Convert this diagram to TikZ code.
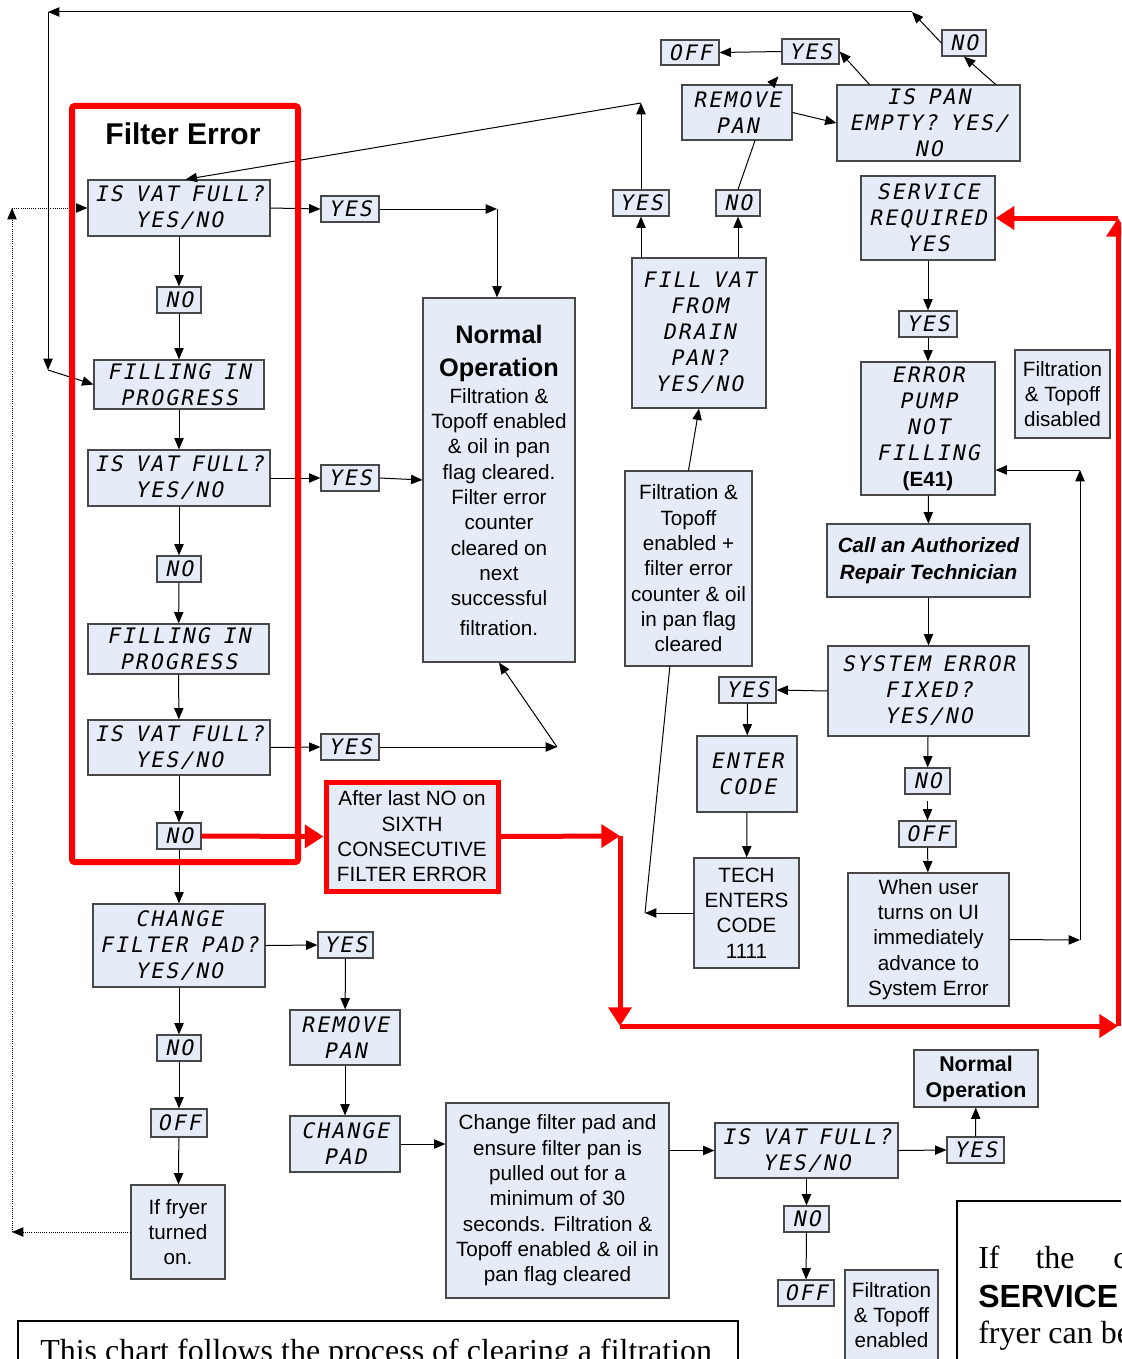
\documentclass[tikz,border=0pt]{standalone}
\usepackage{fontspec}
\setmainfont{Liberation Serif}
\setsansfont{Liberation Sans}
\newfontfamily\lcdfont[FakeSlant=0.2, LetterSpace=10, WordSpace=0.85]{DejaVu Sans Mono}
\usetikzlibrary{arrows.meta,positioning}
\definecolor{boxfill}{RGB}{230,236,247}
\definecolor{boxline}{RGB}{72,72,72}
\definecolor{alarmred}{RGB}{255,0,0}

\begin{document}
\begin{tikzpicture}[x=0.75pt,y=-0.75pt,
  lcd/.style={draw=boxline, fill=boxfill, line width=0.9pt, inner sep=0pt, align=center,
    font=\lcdfont\fontsize{16}{19.5}\selectfont},
  note/.style={draw=boxline, fill=boxfill, line width=0.9pt, inner sep=0pt, align=center,
    font=\sffamily\fontsize{15.5}{19}\selectfont},
  alarm/.style={note, draw=alarmred, line width=3.75pt},
  sz/.style 2 args={minimum width=#1*0.75pt, minimum height=#2*0.75pt},
  arrow/.style={-{Triangle[length=8.5pt,width=7pt]}, line width=0.75pt},
  link/.style={line width=0.75pt},
  dotarrow/.style={-{Triangle[length=8.5pt,width=7pt]}, line width=0.6pt, densely dotted},
  redarrow/.style={-{Triangle[length=14pt,width=17pt]}, line width=3.75pt, draw=alarmred},
  memo/.style={anchor=base west, inner sep=0pt, font=\fontsize{24}{28}\selectfont}
]
\useasboundingbox (0,0) rectangle (1121,1359);
\clip (0,0) rectangle (1121,1359);

% filter error column
\node[lcd, sz={182}{56}] (vat1) at (179,208) {IS VAT FULL?\\YES/NO};
\node[lcd, sz={58}{26}] (yes1) at (350,209) {YES};
\node[lcd, sz={44}{26}] (no1) at (179,300) {NO};
\node[lcd, sz={170}{49}] (fill1) at (179,384.5) {FILLING IN\\PROGRESS};
\node[lcd, sz={182}{56}] (vat2) at (179,478) {IS VAT FULL?\\YES/NO};
\node[lcd, sz={58}{26}] (yes2) at (350,478) {YES};
\node[lcd, sz={44}{26}] (no2) at (179,569) {NO};
\node[lcd, sz={181}{50}] (fill2) at (178.5,649) {FILLING IN\\PROGRESS};
\node[lcd, sz={182}{55}] (vat3) at (179,747.5) {IS VAT FULL?\\YES/NO};
\node[lcd, sz={58}{26}] (yes3) at (350,747) {YES};
\node[lcd, sz={44}{26}] (no3) at (179,836) {NO};
\node[alarm, sz={172}{109}] (afterlast) at (412,836.5) {After last NO on\\SIXTH\\CONSECUTIVE\\FILTER ERROR};
\node[note, sz={152}{364}] (normal1) at (499,480) {\textbf{\fontsize{19}{23}\selectfont Normal}\\[6pt]\textbf{\fontsize{19}{23}\selectfont Operation}\\[1pt]Filtration \&\\Topoff enabled\\\& oil in pan\\flag cleared.\\Filter error\\counter\\cleared on\\next\\successful\\[3pt]filtration.};

% change pad branch
\node[lcd, sz={172}{83}] (change1) at (179,945.5) {CHANGE\\FILTER PAD?\\YES/NO};
\node[lcd, sz={55}{26}] (yes4) at (345.5,945) {YES};
\node[lcd, sz={110}{55}] (remove2) at (345,1037.5) {REMOVE\\PAN};
\node[lcd, sz={44}{26}] (no4) at (179,1048) {NO};
\node[lcd, sz={56}{28}] (off1) at (179,1123) {OFF};
\node[note, sz={94}{94}] (fryer) at (178,1232) {If fryer\\turned\\on.};
\node[lcd, sz={110}{56}] (changepad) at (345,1144) {CHANGE\\PAD};
\node[note, sz={223}{195}] (changetxt) at (557.5,1200.5) {Change filter pad and\\ensure filter pan is\\pulled out for a\\minimum of 30\\seconds. Filtration \&\\Topoff enabled \& oil in\\pan flag cleared};
\node[lcd, sz={183}{55}] (vat4) at (806.5,1150.5) {IS VAT FULL?\\YES/NO};
\node[lcd, sz={57}{26}] (yes9) at (975.5,1150) {YES};
\node[note, sz={124}{57}, font=\sffamily\bfseries\fontsize{16}{19.5}\selectfont] (normal2) at (976,1078.5) {Normal\\Operation};
\node[lcd, sz={45}{26}] (no8) at (806.5,1219) {NO};
\node[lcd, sz={56}{26}] (off4) at (806,1293) {OFF};
\node[note, sz={93}{90}] (filt3) at (891.5,1315) {Filtration\\\& Topoff\\enabled};

% drain pan branch
\node[lcd, sz={134}{150}] (fillvat) at (699,333) {FILL VAT\\FROM\\DRAIN\\PAN?\\YES/NO};
\node[lcd, sz={56}{26}] (yes5) at (641,203) {YES};
\node[lcd, sz={44}{26}] (no5) at (738,203) {NO};
\node[lcd, sz={110}{55}] (remove1) at (737,112.5) {REMOVE\\PAN};
\node[lcd, sz={183}{76}] (ispan) at (928.5,123) {IS PAN\\EMPTY? YES/\\NO};
\node[lcd, sz={57}{25}] (yes6) at (810.5,51.5) {YES};
\node[lcd, sz={58}{25}] (off2) at (690,52.5) {OFF};
\node[lcd, sz={44}{26}] (no6) at (964,43) {NO};
\node[note, sz={127}{195}] (filt2) at (688.5,568.5) {Filtration \&\\Topoff\\enabled +\\filter error\\counter \& oil\\in pan flag\\cleared};

% service branch
\node[lcd, sz={134}{84}] (service) at (928,218) {SERVICE\\REQUIRED\\YES};
\node[lcd, sz={58}{26}] (yes7) at (928,324) {YES};
\node[lcd, sz={134}{133}] (errpump) at (928,428.5) {ERROR\\PUMP\\NOT\\FILLING\\{\sffamily\bfseries\fontsize{15.5}{19}\selectfont (E41)}};
\node[note, sz={95}{88}] (filtdis) at (1062.5,394) {Filtration\\\& Topoff\\disabled};
\node[note, sz={203}{73}, font=\sffamily\bfseries\itshape\fontsize{15.5}{20}\selectfont] (call) at (928.5,560.5) {Call an Authorized\\Repair Technician};
\node[lcd, sz={201}{90}] (sysfix) at (928.5,691) {SYSTEM ERROR\\FIXED?\\YES/NO};
\node[lcd, sz={57}{26}] (yes8) at (747.5,690) {YES};
\node[lcd, sz={100}{76}] (enter) at (747,774) {ENTER\\CODE};
\node[note, sz={105}{110}] (tech) at (746.5,913) {TECH\\ENTERS\\CODE\\1111};
\node[lcd, sz={45}{26}] (no7) at (927.5,781) {NO};
\node[lcd, sz={57}{26}] (off3) at (927.5,834) {OFF};
\node[note, sz={161}{133}] (whenuser) at (928.5,939.5) {When user\\turns on UI\\immediately\\advance to\\System Error};

% bend points
\coordinate (c1) at (497,209);
\coordinate (c3) at (557,747);
\coordinate (c4) at (620,836);
\coordinate (c5) at (620,1026);
\coordinate (c6) at (1118,1026);
\coordinate (c7) at (1118,218);
\coordinate (c8) at (12,1232);
\coordinate (c9) at (12,208);
\coordinate (c10) at (641,103);
\coordinate (c13) at (912,12);
\coordinate (c14) at (48,12);
\coordinate (c15) at (48,370);
\coordinate (c16) at (645,913);
\coordinate (c17) at (1080,940);
\coordinate (c18) at (1080,470);

% filter error connectors
\draw[arrow] (vat1.east) -- (yes1.west);
\draw[arrow] (yes1.east) -- (c1);
\draw[arrow] (c1) -- (normal1.north -| c1);
\draw[arrow] (vat1) -- (no1);
\draw[arrow] (no1) -- (fill1);
\draw[arrow] (fill1) -- (vat2);
\draw[arrow] (vat2.east) -- (yes2.west);
\draw[arrow] (yes2.east) -- (normal1.west);
\draw[arrow] (vat2) -- (no2);
\draw[arrow] (no2) -- (fill2);
\draw[arrow] (fill2) -- (vat3);
\draw[arrow] (vat3.east) -- (yes3.west);
\draw[arrow] (yes3.east) -- (c3);
\draw[arrow] (c3) -- (normal1.south);
\draw[arrow] (vat3) -- (no3);
\draw[arrow] (no3) -- (change1);

% change pad connectors
\draw[arrow] (change1.east) -- (yes4.west);
\draw[arrow] (yes4) -- (remove2);
\draw[arrow] (remove2) -- (changepad);
\draw[arrow] (changepad.east) -- (changetxt.west |- changepad.east);
\draw[arrow] (vat4.west -| changetxt.east) -- (vat4.west);
\draw[arrow] (vat4.east) -- (yes9.west);
\draw[arrow] (yes9) -- (normal2);
\draw[arrow] (vat4) -- (no8);
\draw[arrow] (no8) -- (off4);
\draw[arrow] (change1) -- (no4);
\draw[arrow] (no4) -- (off1);
\draw[arrow] (off1) -- (fryer);
\draw[dotarrow] (fryer.west) -- (c8);
\draw[dotarrow] (c8) -- (c9);
\draw[dotarrow] (c9) -- (vat1.west);

% drain pan connectors
\draw[arrow] (yes5 |- fillvat.north) -- (yes5.south);
\draw[arrow] (yes5.north) -- (c10);
\draw[arrow] (c10) -- ([xshift=5pt]vat1.north);
\draw[arrow] (no5 |- fillvat.north) -- (no5.south);
\draw[link] (no5.north) -- ([xshift=13.5pt]remove1.south);
\draw[arrow] (remove1.east) -- (ispan.west);
\draw[arrow] ([xshift=24.75pt]ispan.north west) -- (yes6.east);
\draw[arrow] (yes6.west) -- (off2.east);
\draw[arrow] ([xshift=67.5pt]remove1.north west) -- ++(7,-8);
\draw[arrow] ([xshift=-18.75pt]ispan.north east) -- (no6.south);
\draw[arrow] (no6.west) -- (c13);
\draw[arrow] (c13) -- (c14);
\draw[arrow] (c14) -- (c15);
\draw[arrow] (c15) -- (fill1.west);
\draw[arrow] (filt2.north) -- (fillvat.south);

% service connectors
\draw[arrow] (service) -- (yes7);
\draw[arrow] (yes7) -- (errpump);
\draw[arrow] (errpump) -- (call);
\draw[arrow] (call) -- (sysfix);
\draw[arrow] (sysfix.west) -- (yes8.east);
\draw[arrow] (yes8) -- (enter);
\draw[arrow] (enter) -- (tech);
\draw[arrow] (tech.west) -- (c16);
\draw[link] (c16) -- ([xshift=-14pt]filt2.south);
\draw[arrow] (sysfix) -- (no7);
\draw[arrow] ([yshift=-4.5pt]no7.south) -- (off3.north);
\draw[arrow] (off3) -- (whenuser);
\draw[arrow] (whenuser.east) -- (c17);
\draw[arrow] (c17) -- (c18);
\draw[arrow] (c18) -- (c18 -| errpump.east);

% red error path
\draw[alarmred, line width=4.5pt, rounded corners=2pt] (72,106) rectangle (298,862);
\node[font=\sffamily\bfseries\fontsize{22.5}{27}\selectfont] (errtitle) at (183,134) {Filter Error};
\draw[redarrow] (no3.east) -- (afterlast.west);
\draw[redarrow] (afterlast.east) -- (c4);
\draw[redarrow] (c4) -- (c5);
\draw[redarrow] (c5) -- (c6);
\draw[redarrow] (c6) -- (c7);
\draw[redarrow] (c7) -- (service.east);

% notes at the bottom
\draw[line width=1.5pt] (18,1321) rectangle (738,1420);
\node[memo] (chartnote) at (40,1361) {This chart follows the process of clearing a filtration};
\draw[line width=1.5pt] (957,1201) rectangle (1140,1420);
\node[memo] (svcnote1) at (978,1268) {If\hspace{27pt}the\hspace{29pt}c};
\node[memo, font=\sffamily\bfseries\fontsize{24}{28}\selectfont] (svcnote2) at (978,1307) {SERVICE};
\node[memo] (svcnote3) at (978,1343) {fryer can be};
\end{tikzpicture}
\end{document}
